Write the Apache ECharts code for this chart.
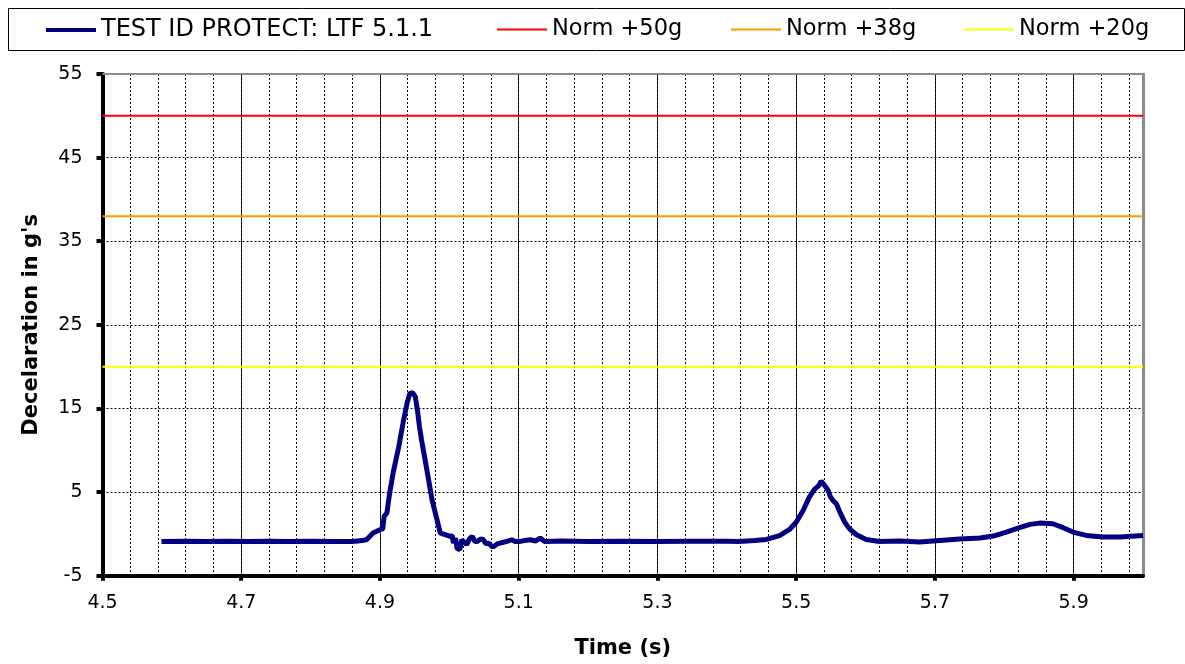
<!DOCTYPE html>
<html>
<head>
<meta charset="utf-8">
<script src="https://cdn.jsdelivr.net/npm/echarts@6/dist/echarts.min.js"></script>
<style>
html,body{margin:0;padding:0;background:#fff;}
#chart{width:1185px;height:664px;}
</style>
</head>
<body>
<div id="chart"></div>
<script>
// ---- data ----
const seriesName = 'TEST ID PROTECT: LTF 5.1.1';
const timeS = [
  4.585, 4.62, 4.65, 4.68, 4.71, 4.74, 4.77, 4.80, 4.83, 4.86,
  4.875, 4.881, 4.890, 4.900, 4.904, 4.906, 4.910, 4.914, 4.919, 4.927,
  4.934, 4.939, 4.943, 4.947, 4.951, 4.954, 4.957, 4.960, 4.965, 4.970,
  4.975, 4.981, 4.987, 4.994, 5.001, 5.004, 5.006, 5.009, 5.011, 5.015,
  5.018, 5.022, 5.025, 5.029, 5.033, 5.037, 5.040, 5.045, 5.049, 5.053,
  5.057, 5.061, 5.064, 5.069, 5.073, 5.078, 5.083, 5.090, 5.095, 5.102,
  5.108, 5.117, 5.124, 5.131, 5.137, 5.141, 5.16, 5.20, 5.25, 5.30,
  5.35, 5.40, 5.418, 5.44, 5.457, 5.476, 5.490, 5.500, 5.510, 5.519,
  5.526, 5.533, 5.536, 5.541, 5.546, 5.549, 5.553, 5.558, 5.563, 5.570,
  5.577, 5.587, 5.601, 5.620, 5.649, 5.678, 5.707, 5.736, 5.765, 5.784,
  5.803, 5.822, 5.837, 5.851, 5.870, 5.885, 5.899, 5.918, 5.942, 5.967,
  6.0
];
const decelG = [
  -0.9, -0.88, -0.92, -0.88, -0.9, -0.87, -0.9, -0.88, -0.9, -0.9,
  -0.8, -0.67, 0.1, 0.5, 0.6, 2.1, 2.5, 4.9, 7.3, 10.4,
  13.6, 15.6, 16.8, 16.9, 16.4, 14.8, 12.8, 11.2, 8.9, 6.5,
  4.1, 2.1, 0.1, -0.1, -0.3, -0.2, -1.1, -0.5, -1.7, -1.9,
  -0.7, -1.0, -1.3, -0.6, -0.3, -0.9, -0.9, -0.6, -0.7, -1.2,
  -1.1, -1.5, -1.5, -1.2, -1.1, -1.0, -0.9, -0.7, -0.9, -0.9,
  -0.8, -0.7, -0.85, -0.5, -0.9, -0.9, -0.85, -0.9, -0.88, -0.9,
  -0.88, -0.88, -0.9, -0.8, -0.66, -0.2, 0.5, 1.4, 2.8, 4.4,
  5.3, 5.8, 6.3, 5.8, 5.2, 4.5, 4.0, 3.6, 2.6, 1.4,
  0.6, -0.1, -0.66, -0.9, -0.86, -0.98, -0.78, -0.62, -0.5, -0.26,
  0.22, 0.74, 1.14, 1.29, 1.21, 0.74, 0.22, -0.18, -0.38, -0.38,
  -0.18
];
const normNames = ['Norm +50g', 'Norm +38g', 'Norm +20g'];
const normValues = [50, 38, 20];
const normColors = ['#FF0000', '#FF9900', '#FFFF00'];

const xMin = 4.5, xMax = 6.0, xStep = 0.2, xMinorStep = 0.04;
const yMin = -5, yMax = 55, yStep = 10;

// offsets so that tick counting starts at 0 (a multiple of the interval)
const toX = t => +(t - xMin).toFixed(6);
const toY = v => +(v - yMin).toFixed(6);

const FONT = 'DejaVu Sans';

const series = [{
  name: seriesName,
  type: 'line',
  symbol: 'none',
  showSymbol: false,
  lineStyle: { color: '#000080', width: 5 },
  itemStyle: { color: '#000080' },
  z: 5,
  data: timeS.map((t, i) => [toX(t), toY(decelG[i])])
}];
normValues.forEach((v, i) => {
  series.push({
    name: normNames[i],
    type: 'line',
    symbol: 'none',
    showSymbol: false,
    lineStyle: { color: normColors[i], width: 2 },
    itemStyle: { color: normColors[i] },
    z: 4,
    data: [[toX(xMin), toY(v)], [toX(xMax), toY(v)]]
  });
});

const legendLefts = [46, 497, 731, 964];
const legendNames = [seriesName].concat(normNames);
const legendThick = [4, 2, 2, 2];
const legendFont = [24, 22.5, 22.5, 22.5];
const legends = legendNames.map((n, i) => ({
  data: [{ name: n, icon: 'rect' }],
  left: legendLefts[i],
  top: 18,
  padding: 0,
  itemWidth: 50,
  itemHeight: legendThick[i],
  itemGap: 0,
  textStyle: { fontFamily: FONT, fontSize: legendFont[i], color: '#000', padding: [0, 0, 0, 0] }
}));

const chart = echarts.init(document.getElementById('chart'), null, { renderer: 'canvas' });
chart.setOption({
  animation: false,
  backgroundColor: '#fff',
  legend: legends,
  graphic: [{
    type: 'rect',
    left: 6, top: 6,
    shape: { width: 1176, height: 42 },
    style: { fill: 'none', stroke: '#000', lineWidth: 1 },
    z: -1
  }],
  grid: { left: 102.5, right: 42, top: 74, bottom: 88.3, containLabel: false },
  xAxis: [{
    type: 'value',
    position: 'bottom',
    min: 0, max: toX(xMax), interval: xStep,
    name: 'Time (s)',
    nameLocation: 'middle',
    nameGap: 62,
    nameTextStyle: { fontFamily: FONT, fontSize: 21, fontWeight: 'bold', color: '#000' },
    axisLine: { show: true, onZero: false, lineStyle: { color: '#000', width: 4 } },
    axisTick: { show: true, inside: false, length: 5, lineStyle: { color: '#000', width: 4 } },
    axisLabel: {
      fontFamily: FONT, fontSize: 19, color: '#000', margin: 18,
      showMaxLabel: false,
      formatter: v => (v + xMin).toFixed(1)
    },
    splitLine: { show: true, lineStyle: { color: '#222', width: 1, type: 'solid' } }
  }, {
    type: 'value',
    position: 'top',
    min: 0, max: toX(xMax), interval: xMinorStep,
    axisLine: { show: true, onZero: false, lineStyle: { color: '#8c8c8c', width: 2 } },
    axisTick: { show: false },
    axisLabel: { show: false },
    splitLine: { show: true, lineStyle: { color: '#000', width: 1, type: [2, 2] } }
  }],
  yAxis: [{
    type: 'value',
    position: 'left',
    min: 0, max: toY(yMax), interval: yStep,
    name: "Decelaration in g's",
    nameLocation: 'middle',
    nameGap: 60,
    nameTextStyle: { fontFamily: FONT, fontSize: 21, fontWeight: 'bold', color: '#000' },
    axisLine: { show: true, onZero: false, lineStyle: { color: '#000', width: 4 } },
    axisTick: { show: true, inside: false, length: 6, lineStyle: { color: '#000', width: 4 } },
    axisLabel: {
      fontFamily: FONT, fontSize: 19, color: '#000', margin: 20,
      formatter: v => String(Math.round(v + yMin))
    },
    splitLine: { show: true, lineStyle: { color: '#000', width: 1, type: [2, 2] } }
  }, {
    type: 'value',
    position: 'right',
    min: 0, max: toY(yMax), interval: yStep,
    axisLine: { show: true, onZero: false, lineStyle: { color: '#8c8c8c', width: 3 } },
    axisTick: { show: false },
    axisLabel: { show: false },
    splitLine: { show: false }
  }],
  series: series
});
</script>
</body>
</html>
